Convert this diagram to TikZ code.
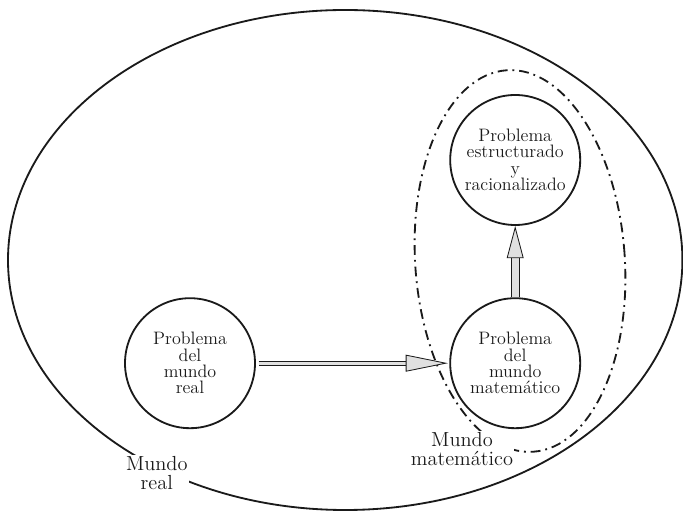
\documentclass[tikz,border=0pt]{standalone}
\usepackage{fontspec}
\usepackage{tikz}
\usetikzlibrary{arrows.meta}
\definecolor{ink}{HTML}{1A1A1A}
\definecolor{shade}{HTML}{E0E0E0}
\tikzset{
  world/.style={draw=ink, line width=1.3pt},
  mathworld/.style={draw=ink, line width=1.3pt, dash pattern=on 7pt off 3.5pt on 1.3pt off 3.5pt},
  prob/.style={circle, draw=ink, line width=1.3pt, minimum size=3.25cm, inner sep=0pt,
    align=center, text=ink, font=\fontsize{12.8}{11.6}\selectfont},
  flow/.style={draw=ink, line width=0.6pt, double=shade, double distance=2.3pt,
    -{Triangle[length=30pt, width=12pt, fill=shade, line width=0.6pt]}},
  flowup/.style={flow, double distance=5pt,
    -{Triangle[length=23pt, width=12pt, fill=shade, line width=0.6pt]}},
  wlab/.style={fill=white, inner sep=1pt, align=center, text=ink,
    font=\fontsize{14.5}{13.6}\selectfont},
}
\begin{document}
\begin{tikzpicture}
  \useasboundingbox (0,0) rectangle (17.075,12.9);
  % the two worlds
  \draw[world] (8.63,6.4) ellipse (8.43 and 6.25);
  \draw[mathworld,rotate around={4:(13.0,6.375)}] (13.0,6.375) ellipse (2.62 and 4.78);
  % problems
  \node[prob] (real) at (4.75,3.82) {Problema\\del\\mundo\\real};
  \node[prob] (mat) at (12.88,3.82) {Problema\\del\\mundo\\matemático};
  \node[prob] (struct) at (12.88,8.9) {Problema\\estructurado\\y\\racionalizado};
  \draw[flow, shorten <=2pt, shorten >=1pt] (real) -- (mat);
  \draw[flowup] (mat) -- (struct);
  % world labels
  \node[wlab] (lreal) at (3.92,1.08) {Mundo\\real};
  \node[wlab] (lmat) at (11.55,1.68) {Mundo\\matemático};
\end{tikzpicture}
\end{document}
